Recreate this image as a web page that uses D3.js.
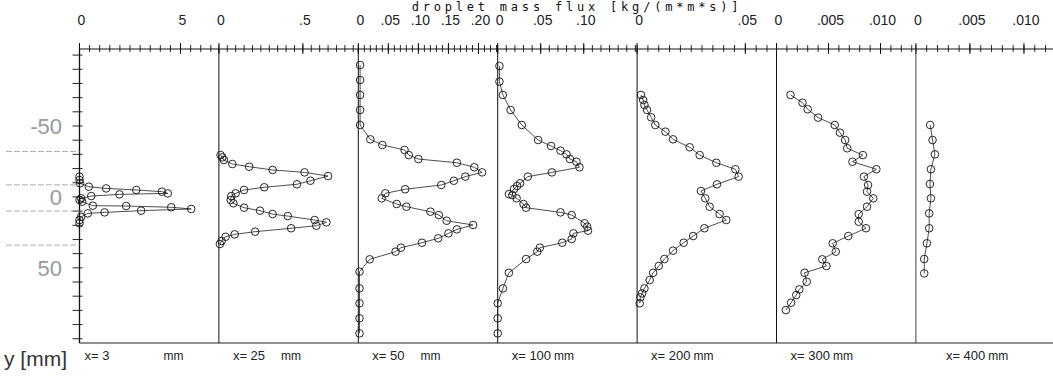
<!DOCTYPE html>
<html><head><meta charset="utf-8">
<script src="https://cdn.jsdelivr.net/npm/d3@7"></script>
<style>body{margin:0;background:#fff}svg{display:block}</style>
</head><body><svg id="c" width="1053" height="379"></svg>
<script>
// ---------- data ----------
const stations = ["3", "25", "50", "100", "200", "300", "400"];
const fluxMax = [6.9, 0.83, 0.232, 0.162, 0.0644, 0.0134, 0.0129];
const majorTicks = [[0, 5], [0, 0.5], [0, 0.05, 0.10, 0.15, 0.20], [0, 0.05, 0.10], [0, 0.05], [0, 0.005, 0.010], [0, 0.005, 0.010]];
const majorLabels = [["0", "5"], ["0", ".5"], ["0", ".05", ".10", ".15", ".20"], ["0", ".05", ".10"], ["0", ".05"], ["0", ".005", ".010"], ["0", ".005", ".010"]];
const minorStep = [0.5, 0.05, 0.01, 0.01, 0.005, 0.001, 0.001];
const yTickValues = [-50, 0, 50];
const yTickLabels = ["-50", "0", "50"];
const guideMarks = [-32, -8.5, 10, 34];

const y_x3 = [-14.3, -11.9, -9.6, -7.2, -6.0, -4.9, -3.7, -2.5, -1.8, -0.6, 1.0, 2.2, 3.4, 6.2, 6.4, 7.3, 8.5, 9.7, 10.9, 11.6, 14.0, 16.3, 18.6];
const f_x3 = [0, 0, 0.03, 0.46, 1.32, 2.81, 4.08, 4.37, 1.98, 0.58, 0.08, 0, 0.13, 0.66, 2.31, 4.54, 5.53, 3.05, 1.24, 0.41, 0.08, 0, 0];

const y_x25 = [-29.5, -27.9, -26.0, -23.2, -21.3, -19.0, -17.3, -14.7, -11.4, -8.9, -6.8, -4.9, -2.5, -0.6, 2.2, 4.5, 7.6, 9.7, 12.1, 13.5, 16.3, 17.9, 20.3, 22.1, 24.5, 26.4, 28.1, 31.1, 33.2];
const f_x25 = [0.01, 0.02, 0.03, 0.08, 0.18, 0.32, 0.51, 0.65, 0.545, 0.465, 0.27, 0.15, 0.10, 0.074, 0.07, 0.086, 0.15, 0.245, 0.32, 0.41, 0.57, 0.64, 0.58, 0.43, 0.216, 0.094, 0.04, 0.016, 0.006];

const y_x50 = [-93.0, -82.4, -71.9, -61.3, -50.7, -40.6, -36.6, -33.1, -29.5, -26.7, -24.1, -20.9, -17.3, -14.3, -11.4, -8.4, -5.4, -2.5, 1.0, 5.0, 6.9, 10.4, 12.8, 16.8, 19.8, 22.9, 25.7, 29.2, 32.3, 35.8, 38.6, 44.0, 52.7, 64.5, 75.0, 85.6, 96.2];
const f_x50 = [0.003, 0.003, 0.003, 0.003, 0.003, 0.02, 0.04, 0.077, 0.084, 0.10, 0.164, 0.193, 0.206, 0.178, 0.159, 0.138, 0.078, 0.045, 0.039, 0.064, 0.08, 0.12, 0.134, 0.147, 0.191, 0.164, 0.15, 0.133, 0.106, 0.071, 0.062, 0.019, 0.002, 0.002, 0.002, 0.002, 0.002];

const y_x100 = [-92.3, -81.3, -71.9, -61.3, -50.7, -40.1, -35.9, -32.6, -30.0, -26.7, -24.8, -20.9, -17.3, -14.3, -9.6, -7.7, -5.6, -2.0, -1.3, 1.0, 5.0, 7.6, 10.9, 12.8, 18.6, 21.0, 23.8, 25.7, 29.7, 32.3, 35.8, 38.6, 43.8, 53.5, 64.5, 75.0, 85.6, 96.2];
const f_x100 = [0.002, 0.002, 0.006, 0.015, 0.028, 0.047, 0.062, 0.073, 0.080, 0.084, 0.0915, 0.095, 0.063, 0.035, 0.026, 0.0225, 0.019, 0.013, 0.017, 0.022, 0.030, 0.033, 0.073, 0.086, 0.101, 0.104, 0.105, 0.088, 0.086, 0.075, 0.049, 0.046, 0.033, 0.013, 0.006, 0.0, 0.0, 0.0];

const y_x200 = [-71.9, -68.3, -64.8, -61.3, -56.1, -50.7, -46.0, -40.6, -35.0, -29.5, -24.1, -19.5, -14.3, -8.9, -4.2, 1.0, 6.9, 12.1, 16.3, 22.1, 27.6, 32.3, 37.9, 43.8, 48.7, 53.5, 58.6, 64.5, 68.0, 70.8, 75.0];
const f_x200 = [0.0018, 0.0028, 0.0034, 0.0046, 0.0065, 0.0084, 0.0131, 0.0166, 0.0243, 0.0289, 0.0366, 0.0454, 0.0469, 0.0369, 0.0295, 0.0315, 0.0335, 0.0381, 0.0412, 0.0311, 0.0259, 0.0215, 0.0166, 0.0126, 0.0100, 0.0074, 0.0058, 0.0034, 0.0023, 0.0015, 0.0012];

const y_x300 = [-71.9, -66.4, -61.8, -55.9, -50.7, -45.3, -40.1, -34.3, -29.5, -24.8, -19.5, -14.3, -8.4, -3.7, 1.0, 6.9, 12.1, 17.5, 22.1, 27.6, 32.7, 38.6, 44.0, 48.7, 53.5, 59.8, 65.2, 69.2, 74.6, 79.8];
const f_x300 = [0.00135, 0.0025, 0.0030, 0.0040, 0.0056, 0.0061, 0.0066, 0.0068, 0.0083, 0.0073, 0.0096, 0.0084, 0.0088, 0.0087, 0.0093, 0.0087, 0.0079, 0.0079, 0.0086, 0.0069, 0.0054, 0.0057, 0.0044, 0.0048, 0.0027, 0.0029, 0.0022, 0.0019, 0.0014, 0.0009];

const y_x400 = [-50.7, -40.1, -30.0, -19.5, -9.1, 1.0, 11.6, 22.1, 32.7, 43.8, 53.9];
const f_x400 = [0.00132, 0.00154, 0.00176, 0.00139, 0.0013, 0.00139, 0.00123, 0.00123, 0.00102, 0.00077, 0.00077];

const profY = [y_x3, y_x25, y_x50, y_x100, y_x200, y_x300, y_x400];
const profF = [f_x3, f_x25, f_x50, f_x100, f_x200, f_x300, f_x400];

// ---------- layout ----------
const svg = d3.select("#c");
const left0 = 79.5, panelW = 139.4, axisTop = 49, axisBottom = 343;
const y = d3.scaleLinear().domain([-105, 103]).range([48, 343]);
const ink = "#111";
const sans = "Liberation Sans, Arial, sans-serif";

svg.append("line").attr("x1", left0).attr("x2", 1053).attr("y1", axisTop).attr("y2", axisTop)
  .attr("stroke", ink).attr("stroke-width", 1);
svg.append("line").attr("x1", left0).attr("x2", 1053).attr("y1", axisBottom).attr("y2", axisBottom)
  .attr("stroke", "#222").attr("stroke-width", 1.2);

stations.forEach((st, i) => {
  const L = left0 + panelW * i;
  const x = d3.scaleLinear().domain([0, fluxMax[i]]).range([L, L + panelW]);
  const g = svg.append("g");
  const minors = d3.range(0, fluxMax[i] + 1e-9, minorStep[i]);
  g.selectAll("line.mi").data(minors).join("line").attr("class", "mi")
    .attr("x1", d => x(d)).attr("x2", d => x(d))
    .attr("y1", axisTop - 4).attr("y2", axisTop + 3)
    .attr("stroke", ink).attr("stroke-width", 0.9);
  g.selectAll("line.ma").data(majorTicks[i]).join("line").attr("class", "ma")
    .attr("x1", d => x(d)).attr("x2", d => x(d))
    .attr("y1", axisTop - 6).attr("y2", axisTop + 5)
    .attr("stroke", ink).attr("stroke-width", 1);
  g.selectAll("text.tl").data(majorTicks[i]).join("text").attr("class", "tl")
    .attr("x", d => x(d) + 2).attr("y", 25)
    .attr("text-anchor", "middle")
    .attr("font-family", sans)
    .attr("font-size", 14).attr("fill", "#222")
    .text((d, k) => majorLabels[i][k]);
  g.append("line").attr("x1", x(0)).attr("x2", x(0)).attr("y1", axisTop).attr("y2", axisBottom)
    .attr("stroke", i === 6 ? "#444" : ink).attr("stroke-width", i === 0 ? 1.3 : 1);
  const pts = profY[i].map((yy, k) => [profF[i][k], yy]);
  const line = d3.line().x(d => x(d[0])).y(d => y(d[1]));
  g.append("path").attr("d", line(pts)).attr("fill", "none")
    .attr("stroke", "#222").attr("stroke-width", 0.8);
  g.selectAll("circle").data(pts).join("circle")
    .attr("cx", d => x(d[0])).attr("cy", d => y(d[1])).attr("r", 3.8)
    .attr("fill", "none").attr("stroke", "#111").attr("stroke-width", 0.9);
  const lab = g.append("text").attr("x", L + (i === 0 ? 5 : i === 6 ? 30 : 14)).attr("y", 360)
    .attr("font-family", sans).attr("fill", "#222");
  lab.append("tspan").attr("font-size", 13).text("x= " + st);
  lab.append("tspan").attr("font-size", 12).attr("dx", st.length === 1 ? 54 : st.length === 2 ? 16 : 3).text("mm");
});

const yMinor = d3.range(-100, 101, 10);
svg.selectAll("line.ym").data(yMinor).join("line").attr("class", "ym")
  .attr("x1", left0 - 7).attr("x2", left0 + 3)
  .attr("y1", d => y(d)).attr("y2", d => y(d))
  .attr("stroke", ink).attr("stroke-width", 0.9);
svg.selectAll("line.gm").data(guideMarks).join("line").attr("class", "gm")
  .attr("x1", 6).attr("x2", left0)
  .attr("y1", d => y(d)).attr("y2", d => y(d))
  .attr("stroke", "#999").attr("stroke-width", 0.8).attr("stroke-dasharray", "6,2");
svg.selectAll("text.yl").data(yTickValues).join("text").attr("class", "yl")
  .attr("x", 62).attr("y", d => y(d) + 8)
  .attr("text-anchor", "end")
  .attr("font-family", sans)
  .attr("font-size", 22).attr("fill", "#9a9a9a")
  .text((d, k) => yTickLabels[k]);

svg.append("text").attr("x", 577).attr("y", 11).attr("text-anchor", "middle")
  .attr("font-family", "DejaVu Sans Mono, monospace").attr("font-size", 12)
  .attr("letter-spacing", 3.8).attr("fill", "#111")
  .text("droplet mass flux [kg/(m*m*s)]");
svg.append("text").attr("x", 4).attr("y", 366)
  .attr("font-family", sans).attr("font-size", 21)
  .attr("fill", "#333").text("y [mm]");
</script></body></html>
